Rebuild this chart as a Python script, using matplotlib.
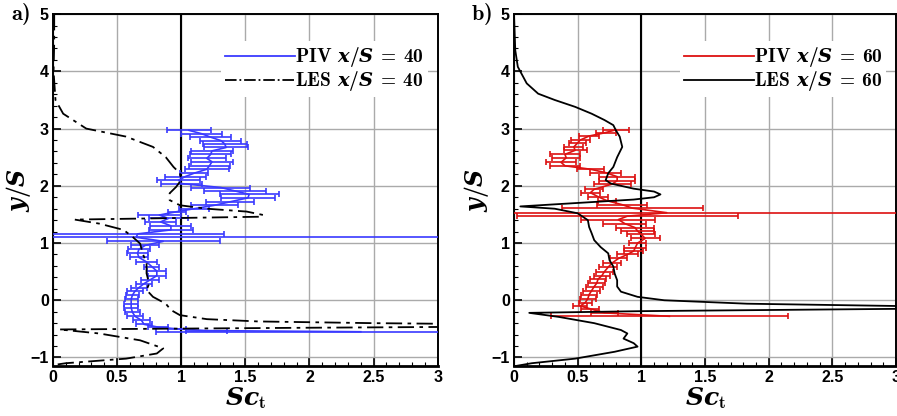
import matplotlib
matplotlib.use("Agg")
import matplotlib.pyplot as plt
from matplotlib.lines import Line2D
from matplotlib.ticker import MultipleLocator

plt.rcParams['font.family'] = ['Liberation Sans', 'DejaVu Sans']
plt.rcParams['font.weight'] = 'bold'
plt.rcParams['mathtext.fontset'] = 'custom'
plt.rcParams['mathtext.rm'] = 'cmb10'
plt.rcParams['mathtext.bf'] = 'cmb10'
plt.rcParams['mathtext.it'] = 'DejaVu Serif:italic:bold'

# ---- data ----
# PIV x/S = 40 : y/S, Sc_t, error half width
y_piv40 = [2.97, 2.91, 2.85, 2.79, 2.73, 2.67, 2.61, 2.55, 2.48, 2.42, 2.35, 2.29,
           2.22, 2.16, 2.10, 2.04, 1.97, 1.91, 1.85, 1.79, 1.72, 1.66, 1.60, 1.55,
           1.49, 1.43, 1.37, 1.30, 1.23, 1.16, 1.10, 1.03, 0.96, 0.89, 0.82, 0.75,
           0.67, 0.59, 0.51, 0.43, 0.36, 0.29, 0.22, 0.16, 0.09, 0.02, -0.06, -0.13,
           -0.21, -0.28, -0.35, -0.42, -0.47, -0.50, -0.53, -0.55]
sc_piv40 = [1.06, 1.16, 1.23, 1.31, 1.34, 1.35, 1.24, 1.23, 1.20, 1.24, 1.22, 1.20,
            1.10, 1.03, 0.98, 1.00, 1.31, 1.42, 1.53, 1.52, 1.38, 1.26, 1.10, 0.97,
            0.83, 0.90, 0.84, 0.92, 0.92, 0.66, 0.65, 0.86, 0.72, 0.67, 0.66, 0.67,
            0.73, 0.77, 0.81, 0.81, 0.76, 0.71, 0.67, 0.64, 0.62, 0.61, 0.61, 0.61,
            0.62, 0.64, 0.69, 0.71, 0.82, 0.97, 1.20, 2.40]
err_piv40 = [0.17, 0.16, 0.16, 0.16, 0.17, 0.17, 0.16, 0.16, 0.15, 0.16, 0.16, 0.17,
             0.11, 0.16, 0.17, 0.16, 0.23, 0.24, 0.23, 0.21, 0.19, 0.18, 0.12, 0.07,
             0.17, 0.15, 0.12, 0.16, 0.17, 0.67, 3.00, 0.44, 0.11, 0.085, 0.08, 0.07,
             0.08, 0.06, 0.075, 0.07, 0.07, 0.065, 0.065, 0.06, 0.05, 0.05, 0.055, 0.055,
             0.055, 0.06, 0.065, 0.065, 0.08, 0.07, 0.16, 1.60]

# LES x/S = 40
y_les40 = [5.0, 4.5, 4.0, 3.5, 3.26, 3.0, 2.86, 2.68, 2.5, 2.33, 2.22, 2.1, 1.98,
           1.87, 1.75, 1.66, 1.6, 1.55, 1.49, 1.46, 1.41, 1.34, 1.23, 1.11, 0.99,
           0.82, 0.64, 0.47, 0.29, 0.18, 0.06, -0.06, -0.17, -0.26, -0.33, -0.37,
           -0.40, -0.42, -0.44, -0.46, -0.48, -0.495, -0.51, -0.58, -0.70, -0.84,
           -0.93, -1.02, -1.10, -1.13, -1.15]
sc_les40 = [0.01, 0.01, 0.005, 0.02, 0.08, 0.26, 0.57, 0.78, 0.88, 0.94, 0.99, 1.0, 0.96,
            0.91, 0.91, 0.99, 1.2, 1.51, 1.64, 1.62, 0.17, 0.36, 0.55, 0.62, 0.68,
            0.70, 0.73, 0.73, 0.75, 0.73, 0.78, 0.88, 0.92, 0.99, 1.2, 1.6,
            2.5, 3.5, 4.5, 3.5, 2.0, 1.0, 0.05, 0.36, 0.68, 0.86,
            0.81, 0.57, 0.10, 0.01, 0.0]

# PIV x/S = 60
y_piv60 = [2.98, 2.93, 2.87, 2.80, 2.75, 2.68, 2.62, 2.55, 2.49, 2.41, 2.35, 2.29,
           2.23, 2.16, 2.09, 2.03, 1.94, 1.88, 1.81, 1.74, 1.67, 1.61, 1.53, 1.47,
           1.41, 1.34, 1.27, 1.21, 1.15, 1.08, 1.00, 0.91, 0.86, 0.80, 0.73, 0.65,
           0.58, 0.50, 0.43, 0.37, 0.30, 0.24, 0.17, 0.10, 0.03, -0.04, -0.10, -0.15,
           -0.22, -0.28]
sc_piv60 = [0.80, 0.72, 0.59, 0.52, 0.50, 0.47, 0.48, 0.40, 0.41, 0.37, 0.40, 0.60,
            0.72, 0.81, 0.81, 0.77, 0.63, 0.60, 0.66, 0.73, 0.85, 0.93, 1.20, 0.89,
            0.82, 0.87, 0.95, 0.97, 1.00, 1.03, 0.97, 0.95, 0.94, 0.89, 0.82, 0.77,
            0.74, 0.71, 0.69, 0.66, 0.65, 0.63, 0.61, 0.59, 0.58, 0.56, 0.52, 0.60,
            0.71, 1.22]
err_piv60 = [0.10, 0.08, 0.08, 0.075, 0.065, 0.075, 0.09, 0.12, 0.11, 0.115, 0.12, 0.105,
             0.12, 0.14, 0.14, 0.145, 0.07, 0.075, 0.08, 0.07, 0.195, 0.555, 2.2, 0.87,
             0.29, 0.17, 0.15, 0.13, 0.11, 0.115, 0.065, 0.085, 0.075, 0.08, 0.07, 0.07,
             0.07, 0.07, 0.06, 0.065, 0.065, 0.065, 0.065, 0.06, 0.06, 0.05, 0.055, 0.07,
             0.105, 0.93]

# LES x/S = 60
y_les60 = [5.0, 4.37, 4.08, 3.79, 3.61, 3.5, 3.38, 3.26, 3.15, 3.06, 2.97, 2.86,
           2.68, 2.5, 2.33, 2.22, 2.1, 2.04, 1.95, 1.9, 1.85, 1.8, 1.76, 1.64,
           1.6, 1.52, 1.4, 1.28, 1.17, 1.05, 0.93, 0.82, 0.70, 0.59, 0.47, 0.35,
           0.24, 0.15, 0.06, 0.0, -0.06, -0.10, -0.12, -0.15, -0.19, -0.22, -0.29,
           -0.40, -0.52, -0.58, -0.67, -0.75, -0.81, -0.90, -1.02, -1.10, -1.15]
sc_les60 = [0.0, 0.01, 0.03, 0.10, 0.19, 0.32, 0.48, 0.61, 0.71, 0.78, 0.80, 0.83,
            0.85, 0.81, 0.78, 0.74, 0.72, 0.76, 0.94, 1.10, 1.15, 1.10, 0.94, 0.05,
            0.32, 0.50, 0.58, 0.59, 0.61, 0.63, 0.68, 0.74, 0.75, 0.78, 0.79, 0.81,
            0.81, 0.84, 0.97, 1.18, 1.83, 3.0, 4.5, 3.0, 1.0, 0.12, 0.35,
            0.63, 0.84, 0.89, 0.86, 0.94, 0.97, 0.79, 0.48, 0.14, 0.01]

panels = [
    ('a)', y_piv40, sc_piv40, err_piv40, y_les40, sc_les40, '#3a3aff', '-.', '40', -0.052),
    ('b)', y_piv60, sc_piv60, err_piv60, y_les60, sc_les60, '#dd1111', '-', '60', -0.059),
]

fig = plt.figure(figsize=(8.97, 4.16), dpi=100)
boxes = [[0.059, 0.120, 0.429, 0.846], [0.573, 0.120, 0.426, 0.846]]

for box, (tag, yp, sp, ep, yl, sl, col, ls, pos, ylx) in zip(boxes, panels):
    ax = fig.add_axes(box)
    ax.set_xlim(0, 3)
    ax.set_ylim(-1.15, 5)
    ax.grid(True, color='#aaaaaa', lw=1.0)
    ax.set_axisbelow(True)
    ax.axvline(1, color='black', lw=1.5, zorder=2)

    ax.errorbar(sp, yp, xerr=ep, color=col, lw=1.2, elinewidth=1.2,
                capsize=2.2, capthick=1.2, zorder=3)
    if ls == '-.':
        ax.plot(sl, yl, color='black', lw=1.3, dashes=(9, 3, 2, 3), zorder=4)
    else:
        ax.plot(sl, yl, color='black', lw=1.3, zorder=4)

    ax.xaxis.set_minor_locator(MultipleLocator(0.1))
    ax.yaxis.set_major_locator(MultipleLocator(1))
    ax.yaxis.set_minor_locator(MultipleLocator(0.2))
    ax.tick_params(which='both', direction='in', top=False, right=False,
                   labelsize=11.5, pad=3)
    ax.tick_params(which='major', length=6, width=1.2)
    ax.tick_params(which='minor', length=3, width=0.8)
    ax.set_xticks([0, 0.5, 1, 1.5, 2, 2.5, 3])
    ax.set_xticklabels(['0', '0.5', '1', '1.5', '2', '2.5', '3'], fontweight='bold')
    for lab in ax.get_yticklabels():
        lab.set_fontweight('bold')
    for side in ['top', 'right', 'left']:
        ax.spines[side].set_linewidth(1.4)
    ax.spines['bottom'].set_linewidth(2.0)

    ax.set_xlabel(r'$\mathit{Sc}_\mathrm{t}$', fontsize=18, labelpad=0)
    ax.set_ylabel(r'$\mathit{y/S}$', fontsize=17)
    ax.yaxis.set_label_coords(ylx, 0.5)
    ax.text(-0.085, 1.0, r'$\mathrm{' + tag + '}$', transform=ax.transAxes,
            fontsize=16, ha='center', va='center')

    handles = [Line2D([], [], color=col, lw=1.3),
               Line2D([], [], color='black', lw=1.3, ls=ls)]
    labels = [r'$\mathrm{PIV}\ \mathit{x/S}\,\mathrm{=}\,\mathrm{' + pos + '}$',
              r'$\mathrm{LES}\ \mathit{x/S}\,\mathrm{=}\,\mathrm{' + pos + '}$']
    ax.legend(handles, labels, loc='upper right', bbox_to_anchor=(1.0, 0.95),
              frameon=True, facecolor='white', edgecolor='none', framealpha=1,
              fancybox=False, handlelength=3.6, handletextpad=0.0,
              labelspacing=0.0, fontsize=14.0, borderpad=0.2)

fig.savefig('out.png', dpi=100)
